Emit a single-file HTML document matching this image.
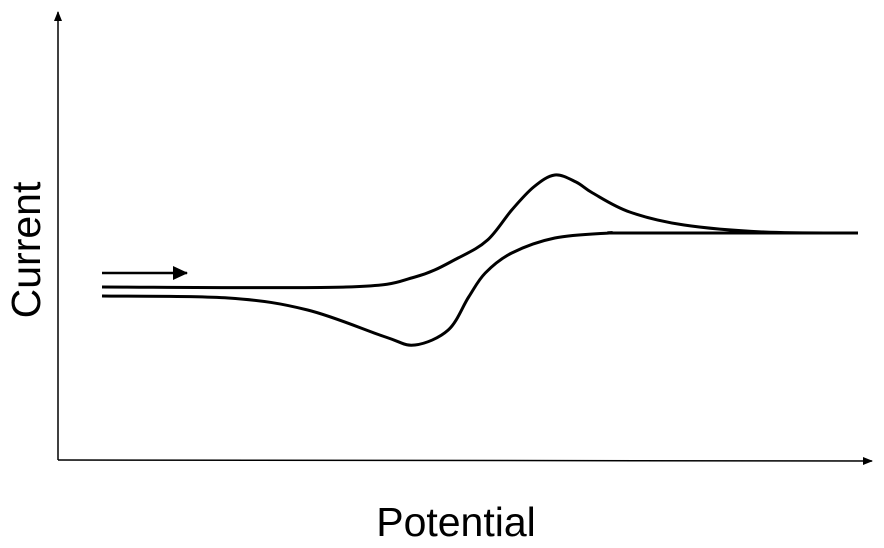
<!DOCTYPE html>
<html><head><meta charset="utf-8"><style>
html,body{margin:0;padding:0;background:#fff;}
svg{display:block;font-family:"Liberation Sans",Arial,sans-serif;}
</style></head><body>
<svg id="chart" width="884" height="548" viewBox="0 0 884 548">
  <defs>
    <marker id="ah" markerWidth="10" markerHeight="10" refX="9" refY="5" orient="auto" markerUnits="userSpaceOnUse">
      <path d="M0,1 L10,5 L0,9 Z" fill="#000"/>
    </marker>
    <marker id="ah2" markerWidth="16" markerHeight="16" refX="14" refY="8" orient="auto" markerUnits="userSpaceOnUse">
      <path d="M0,1 L15,8 L0,15 Z" fill="#000"/>
    </marker>
  </defs>
  <line x1="58" y1="460" x2="58" y2="12" stroke="#000" stroke-width="1.5" marker-end="url(#ah)"/>
  <line x1="58" y1="460" x2="872" y2="461" stroke="#000" stroke-width="1.5" marker-end="url(#ah)"/>
  <text transform="translate(40,250) rotate(-90)" text-anchor="middle" font-size="41">Current</text>
  <text x="456" y="536" text-anchor="middle" font-size="41">Potential</text>
  <line x1="102" y1="273" x2="187" y2="273" stroke="#000" stroke-width="2.5" marker-end="url(#ah2)"/>
  <g id="series"></g>
</svg>
<script>
const forwardPotential = [0, 32.3, 41.4, 47.1, 51, 54.2, 57.1, 59.9, 62.7, 64.9, 69.8, 77, 87.6, 100];
const forwardCurrent   = [0, 0, 10, 29, 47, 77, 100, 112, 105, 94, 75, 62, 55, 54];
const reversePotential = [100, 69.8, 67.1, 59.9, 54.2, 50.7, 48.5, 45.8, 41.4, 37.5, 27.2, 16.7, 0];
const reverseCurrent   = [54, 54, 54, 49, 34, 14, -10, -43, -58, -50, -23, -11, -9];

function xScale(p){ return 102 + p * 7.56; }
function yScale(c){ return 287 - c; }

function smoothPath(xs, ys){
  const pts = xs.map((p,i)=>[xScale(p), yScale(ys[i])]);
  let d = "M" + pts[0][0] + "," + pts[0][1];
  for(let i=0;i<pts.length-1;i++){
    const p0 = pts[Math.max(0,i-1)], p1 = pts[i], p2 = pts[i+1], p3 = pts[Math.min(pts.length-1,i+2)];
    const c1x = p1[0] + (p2[0]-p0[0])/6, c1y = p1[1] + (p2[1]-p0[1])/6;
    const c2x = p2[0] - (p3[0]-p1[0])/6, c2y = p2[1] - (p3[1]-p1[1])/6;
    d += " C" + c1x + "," + c1y + " " + c2x + "," + c2y + " " + p2[0] + "," + p2[1];
  }
  return d;
}
const g = document.getElementById('series');
const ns = "http://www.w3.org/2000/svg";
const f = document.createElementNS(ns, 'path');


f.setAttribute('d', smoothPath(forwardPotential, forwardCurrent));
f.setAttribute('fill', 'none'); f.setAttribute('stroke', '#000'); f.setAttribute('stroke-width', '3');
g.appendChild(f);
const r = document.createElementNS(ns, 'path');


r.setAttribute('d', smoothPath(reversePotential, reverseCurrent));
r.setAttribute('fill', 'none'); r.setAttribute('stroke', '#000'); r.setAttribute('stroke-width', '3');
g.appendChild(r);
</script>
</body></html>
